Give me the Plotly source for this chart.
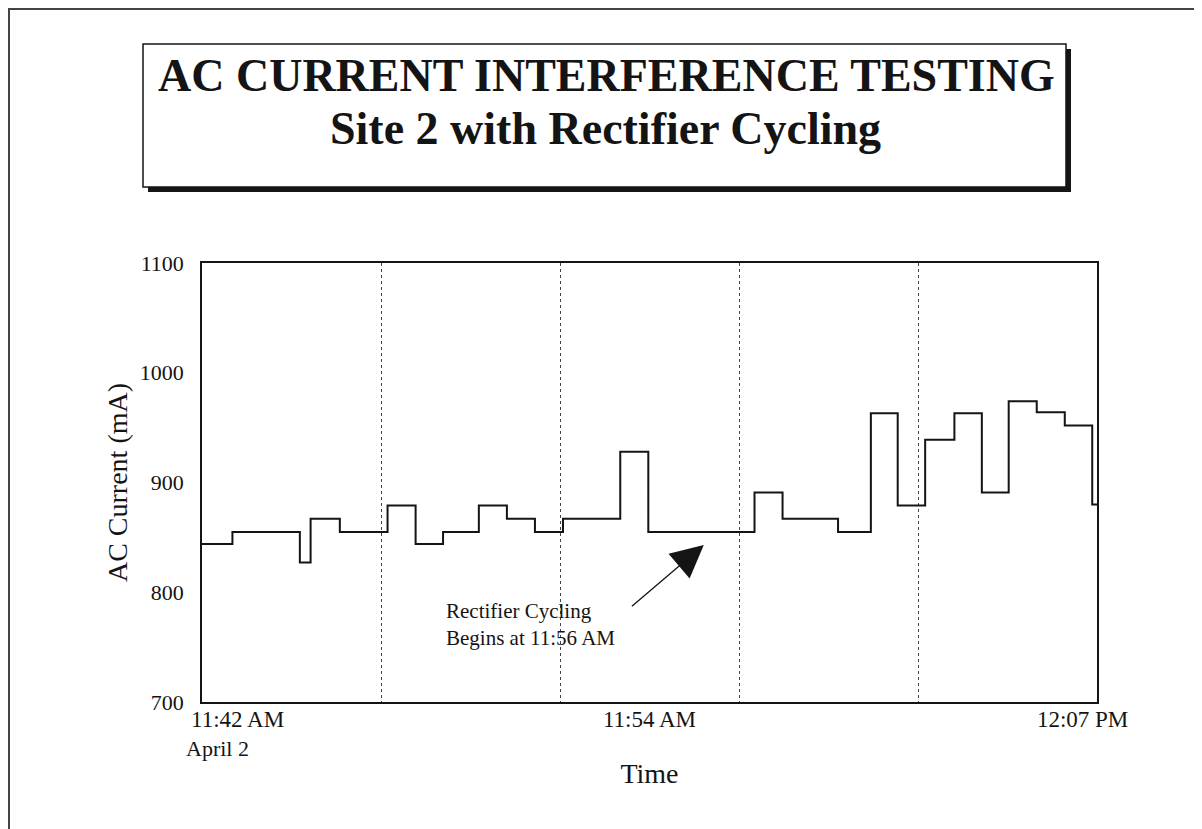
import plotly.graph_objects as go

# ---- data ----
DAY = "1998-04-02 "
step_times = ["11:42:00", "11:42:51", "11:44:44", "11:45:02", "11:45:51", "11:47:11",
              "11:47:58", "11:48:44", "11:49:44", "11:50:31", "11:51:18", "11:52:05",
              "11:53:41", "11:54:28", "11:57:26", "11:58:13", "11:59:46", "12:00:41",
              "12:01:26", "12:02:12", "12:03:01", "12:03:47", "12:04:32", "12:05:19",
              "12:06:06", "12:06:52", "12:07:00"]
current_ma = [844, 855, 827, 867, 855, 879,
              844, 855, 879, 867, 855, 867,
              928, 855, 891, 867, 855, 963,
              879, 939, 963, 891, 974, 964,
              952, 880, 880]

x_range = ["11:42:00", "12:07:00"]
x_tick_vals = ["11:54:30", "12:07:00"]
x_tick_text = ["11:54 AM", "12:07 PM" + "\u00a0" * 5]
first_label = "11:42 AM"
date_label = "April 2"
y_ticks = [700, 800, 900, 1000, 1100]
arrow_tip = ("11:56:01", 843)
arrow_tail = ("11:53:58", 786)

title1 = "AC CURRENT INTERFERENCE TESTING"
title2 = "Site 2 with Rectifier Cycling"
note = "Rectifier Cycling<br>Begins at 11:56 AM"

# ---- layout geometry (page body margin of 8px compensated) ----
W, H = 1202, 829
OFF = 8
L, T = 202 - OFF, 263 - OFF
R, B = W - (1097 - OFF), H - (702 - OFF)
PW, PH = W - L - R, H - T - B


def px(xp):
    return (xp - OFF - L) / PW


def py(yp):
    return (H - B - (yp - OFF)) / PH


FONT = "Liberation Serif, Times New Roman, serif"
INK = "#141414"

fig = go.Figure()
fig.add_trace(go.Scatter(
    x=[DAY + t for t in step_times], y=current_ma,
    mode="lines", line=dict(shape="hv", color=INK, width=2),
    showlegend=False, hoverinfo="x+y"))

shapes = [
    # page frame
    dict(type="rect", xref="paper", yref="paper", x0=px(OFF + 1), x1=px(1200), y0=py(OFF + 1), y1=py(860),
         line=dict(color="#444", width=2), fillcolor="rgba(0,0,0,0)", layer="below"),
    # title box shadow
    dict(type="rect", xref="paper", yref="paper", x0=px(148), x1=px(1071), y0=py(49), y1=py(192),
         line=dict(width=0), fillcolor="#151515", layer="below"),
    # title box
    dict(type="rect", xref="paper", yref="paper", x0=px(143), x1=px(1066), y0=py(44), y1=py(187),
         line=dict(color=INK, width=1.5), fillcolor="white", layer="below"),
]

annotations = [
    dict(text="<b>" + title1 + "</b>", xref="paper", yref="paper", x=px(606), y=py(75),
         xanchor="center", yanchor="middle", showarrow=False,
         font=dict(family=FONT, size=46, color=INK)),
    dict(text="<b>" + title2 + "</b>", xref="paper", yref="paper", x=px(605), y=py(128),
         xanchor="center", yanchor="middle", showarrow=False,
         font=dict(family=FONT, size=46, color=INK)),
    dict(text=first_label, xref="paper", yref="paper", x=px(189), y=py(719),
         xanchor="left", yanchor="middle", showarrow=False,
         font=dict(family=FONT, size=23, color=INK)),
    dict(text=date_label, xref="paper", yref="paper", x=px(184), y=py(748),
         xanchor="left", yanchor="middle", showarrow=False,
         font=dict(family=FONT, size=22, color=INK)),
    dict(text=note, xref="paper", yref="paper", x=px(444), y=py(624),
         xanchor="left", yanchor="middle", align="left", showarrow=False,
         font=dict(family=FONT, size=21, color=INK)),
    dict(text="", x=DAY + arrow_tip[0], y=arrow_tip[1], xref="x", yref="y",
         ax=DAY + arrow_tail[0], ay=arrow_tail[1], axref="x", ayref="y",
         showarrow=True, arrowhead=2, arrowsize=5, arrowwidth=1.3, arrowcolor=INK),
]

fig.update_layout(
    width=W, height=H,
    margin=dict(l=L, r=R, t=T, b=B, autoexpand=False),
    paper_bgcolor="white", plot_bgcolor="white",
    font=dict(family=FONT, size=22, color=INK),
    shapes=shapes, annotations=annotations,
    showlegend=False,
)

fig.update_xaxes(
    range=[DAY + x_range[0], DAY + x_range[1]], type="date",
    tickmode="array", tickvals=[DAY + v for v in x_tick_vals], ticktext=x_tick_text,
    ticks="", showgrid=False, zeroline=False,
    showline=True, mirror=True, linecolor=INK, linewidth=1.5,
    tickfont=dict(family=FONT, size=23, color=INK),
    ticklabelstandoff=-4,
    minor=dict(tick0=DAY + x_range[0], dtick=300000, showgrid=True,
               griddash="dot", gridcolor="#444", gridwidth=1, ticks=""),
    title=dict(text="Time", font=dict(family=FONT, size=28, color=INK), standoff=32),
    automargin=False,
)
fig.update_yaxes(
    range=[700, 1100], tickmode="array", tickvals=y_ticks,
    ticks="", showgrid=False, zeroline=False,
    showline=True, mirror=True, linecolor=INK, linewidth=1.5,
    tickfont=dict(family=FONT, size=22, color=INK),
    ticklabelstandoff=12,
    title=dict(text="AC Current (mA)", font=dict(family=FONT, size=28, color=INK), standoff=4),
    automargin=False,
)

fig.write_html("out.html")
